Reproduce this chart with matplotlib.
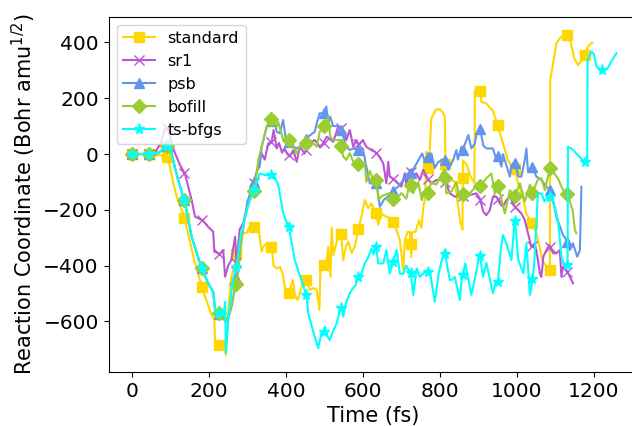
import numpy as np
import matplotlib
matplotlib.use("Agg")
import matplotlib.pyplot as plt

# ---------------- data (time in fs, reaction coordinate in Bohr amu^1/2) ----------------
std_t = [0, 20, 40, 60, 80, 90, 98, 108, 120, 133, 145, 160, 172, 183, 195, 205, 214, 216, 225, 235,
         240, 244, 250, 258, 268, 278, 290, 298, 306, 311, 320, 328, 332, 337, 342, 350, 358, 363, 368,
         376, 385, 392, 397, 406, 410, 418, 423, 431, 440, 444, 454, 462, 472, 480, 487, 490, 497, 506,
         510, 516, 519, 523, 532, 542, 549, 556, 562, 571, 579, 588, 596, 605, 614, 622, 634, 640, 648,
         661, 672, 681, 688, 696, 705, 709, 716, 722, 726, 728, 737, 746, 752, 758, 762, 765, 767, 772,
         778, 790, 800, 807, 813, 815, 830, 840, 845, 853, 859, 860, 870, 880, 890, 891, 904, 908, 920,
         938, 949, 964, 977, 990, 999, 1000, 1015, 1025, 1040, 1050, 1068, 1086, 1087, 1095, 1103, 1115,
         1131, 1140, 1150, 1159, 1168, 1175, 1185, 1196]
std_v = [0, 0, 0, -3, -5, -10, -40, -110, -170, -213, -280, -370, -430, -485, -530, -570, -595, -677, -685, -690,
         -685, -720, -560, -440, -392, -300, -284, -283, -260, -272, -255, -248, -300, -350, -330, -320, -330, -332, -400,
         -410, -405, -430, -476, -505, -487, -452, -505, -523, -480, -452, -452, -487, -480, -487, -559, -392, -398, -380,
         -332, -440, -265, -362, -314, -270, -380, -330, -314, -354, -332, -270, -225, -165, -195, -177, -212, -254, -213,
         -225, -230, -246, -275, -308, -416, -308, -280, -278, -370, -280, -278, -237, -265, -183, -159, 8, -69, -30,
         128, 160, 160, 150, 134, -93, -93, -100, -165, -240, -272, -22, -39, -81, -105, 229, 239, 187, 182,
         155, 110, 38, -22, -51, -57, -90, -150, -215, -246, -280, -386, -416, 265, 330, 397, 420,
         427, 400, 340, 319, 335, 351, 385, 399]

sr1_t = [0, 20, 45, 60, 75, 85, 90, 98, 105, 112, 125, 138, 155, 164, 183, 198, 211, 214, 228, 237,
         242, 250, 258, 268, 272, 280, 289, 298, 306, 315, 325, 337, 345, 354, 363, 368, 376, 382, 390, 396,
         404, 410, 419, 428, 436, 449, 458, 475, 488, 497, 506, 523, 536, 545, 557, 566, 575, 583, 590, 600,
         609, 622, 631, 640, 653, 661, 666, 670, 683, 700, 709, 713, 722, 731, 739, 748, 757, 770, 778, 791,
         800, 813, 826, 839, 856, 869, 878, 895, 904, 913, 921, 930, 938, 947, 956, 964, 973, 982, 995, 1012,
         1021, 1029, 1038, 1047, 1055, 1060, 1064, 1069, 1073, 1084, 1095, 1103, 1112, 1116, 1120, 1129, 1138, 1146]
sr1_v = [0, 0, 0, 5, 40, 90, 95, 70, 30, 2, -40, -72, -165, -225, -237, -261, -278, -350, -358, -344,
         -440, -400, -380, -296, -404, -270, -248, -200, -153, -111, -60, 2, -20, 38, 44, 86, 20, 40, 5, 20,
         0, -9, 14, -28, 26, 2, 38, 50, 26, 38, 62, 44, 98, 92, 50, 86, 26, 50, 32, 50,
         26, 14, 8, -4, -33, -105, -28, -81, -93, -117, -69, -117, -57, -87, -69, -93, -57, -93, -105, -93,
         -93, -93, -141, -153, -147, -153, -147, -141, -159, -207, -219, -201, -153, -153, -177, -189, -165, -153, -189, -213,
         -237, -284, -332, -320, -380, -428, -440, -368, -356, -326, -356, -356, -344, -440, -404, -416, -440, -463]

psb_t = [0, 20, 45, 70, 90, 100, 110, 120, 138, 155, 181, 198, 211, 216, 228, 238, 250, 260, 272, 285,
         300, 315, 325, 332, 337, 350, 357, 363, 369, 376, 384, 393, 400, 410, 419, 428, 436, 449, 458, 475, 480, 488,
         497, 505, 510, 515, 523, 536, 545, 557, 566, 575, 588, 600, 609, 618, 627, 636, 644, 654, 667, 680,
         692, 705, 717, 725, 737, 754, 762, 770, 778, 787, 795, 813, 822, 835, 843, 847, 856, 859, 869, 874,
         882, 891, 895, 904, 913, 921, 938, 947, 951, 960, 964, 973, 982, 986, 995, 1004, 1012, 1021, 1025, 1029,
         1041, 1051, 1064, 1077, 1086, 1095, 1103, 1112, 1120, 1129, 1138, 1146, 1157, 1164, 1168]
psb_v = [0, 0, 0, 5, 30, 20, -40, -93, -177, -296, -410, -463, -494, -559, -575, -590, -590, -540, -440, -300,
         -170, -110, -60, -45, 26, 98, 110, 120, 134, 80, 74, 122, 50, 38, 26, 20, 26, 50, 62, 80, 110, 146,
         146, 170, 110, 134, 100, 100, 80, 26, 14, 20, 14, 20, -45, -105, -105, -105, -189, -165, -150, -129,
         -117, -93, -69, -69, -40, 2, -30, -9, 2, -50, -30, -15, -57, -20, 14, -20, 26, 12, 50, 68,
         20, 38, 68, 98, 30, 20, 20, -20, -4, -45, 0, -40, -81, -40, -28, -81, -81, -20, 20, -60,
         -48, -81, -93, -117, -129, -170, -225, -260, -290, -308, -344, -320, -368, -344, -117]

bof_t = [0, 20, 45, 70, 90, 100, 110, 120, 138, 155, 181, 198, 211, 216, 228, 235, 245, 255, 265, 272,
         276, 290, 300, 310, 319, 328, 337, 350, 363, 376, 380, 393, 402, 408, 419, 428, 436, 452, 462, 480,
         488, 497, 505, 510, 515, 523, 540, 549, 557, 566, 575, 588, 596, 605, 609, 618, 627, 636, 640, 650,
         670, 683, 700, 713, 722, 731, 744, 753, 762, 770, 778, 791, 805, 813, 817, 830, 843, 852, 865, 878,
         891, 904, 921, 934, 943, 951, 969, 982, 995, 1008, 1021, 1034, 1041, 1055, 1064, 1073, 1086, 1095, 1108, 1116,
         1125, 1131, 1145, 1151, 1155]
bof_v = [0, 0, 0, 5, 30, 20, -40, -93, -177, -296, -410, -463, -494, -559, -571, -590, -600, -560, -500, -463,
         -420, -250, -190, -150, -129, -22, 26, 98, 128, 98, 115, 50, 62, 50, 26, 2, 26, 38, 50, 26,
         80, 98, 110, 134, 62, 50, 50, -9, -21, 3, -27, -36, -45, -30, -100, -60, -93, -93, -165, -150,
         -140, -170, -140, -160, -105, -140, -100, -165, -130, -140, -100, -110, -70, -55, -141, -135, -100, -165, -130, -141,
         -120, -117, -87, -70, -141, -110, -213, -130, -153, -105, -170, -110, -141, -90, -87, -130, -51, -65, -90, -117,
         -141, -141, -200, -272, -284]

ts_t = [0, 20, 45, 70, 90, 100, 110, 120, 138, 155, 181, 198, 211, 216, 228, 238, 242, 244, 250, 262,
        272, 281, 290, 305, 317, 332, 345, 363, 372, 380, 393, 408, 423, 440, 454, 458, 470, 484, 493, 497,
        502, 507, 514, 524, 532, 540, 545, 549, 557, 566, 575, 581, 588, 596, 605, 614, 622, 628, 634, 640,
        653, 661, 670, 680, 688, 696, 705, 712, 725, 731, 740, 748, 757, 765, 775, 787, 797, 805, 813, 818,
        826, 832, 839, 852, 856, 866, 882, 895, 904, 912, 921, 938, 945, 951, 958, 964, 973, 986, 995, 1004,
        1017, 1025, 1034, 1038, 1045, 1055, 1064, 1072, 1084, 1090, 1099, 1108, 1116, 1125, 1132, 1133, 1142, 1159, 1170, 1177,
        1183, 1184, 1194, 1200, 1207, 1220, 1235, 1245, 1259]
ts_v = [0, 0, 0, 5, 30, 20, -40, -93, -177, -296, -410, -463, -494, -559, -571, -575, -530, -713, -600, -450,
        -404, -300, -250, -170, -129, -70, -75, -75, -85, -110, -213, -264, -380, -450, -511, -571, -630, -696, -637, -640,
        -620, -650, -667, -630, -607, -560, -547, -583, -530, -499, -480, -470, -440, -430, -392, -370, -340, -360, -329, -392,
        -392, -344, -428, -380, -344, -428, -430, -400, -428, -505, -410, -440, -428, -420, -430, -529, -428, -380, -344, -392,
        -452, -450, -440, -523, -458, -392, -505, -420, -356, -440, -390, -499, -458, -458, -350, -290, -320, -380, -230, -380,
        -428, -320, -505, -480, -400, -141, -141, -170, -150, -160, -189, -248, -368, -404, -398, 26, 20, -4, -20, -28,
        -28, 337, 367, 360, 313, 301, 305, 330, 361]

labels = ["standard", "sr1", "psb", "bofill", "ts-bfgs"]
colors = ["#FFD700", "#BA55D3", "#6495ED", "#9ACD32", "#00FFFF"]
markers = ["s", "x", "^", "D", "*"]
msizes = [7, 7, 7, 7, 8]
series = [(std_t, std_v), (sr1_t, sr1_v), (psb_t, psb_v), (bof_t, bof_v), (ts_t, ts_v)]
mark_step = 45.25


def with_marks(t, v, step):
    t = np.asarray(t, float)
    v = np.asarray(v, float)
    mt = np.arange(0, t[-1] + 1e-9, step)
    mv = np.interp(mt, t, v)
    T = np.concatenate([t, mt])
    V = np.concatenate([v, mv])
    flag = np.concatenate([np.zeros(len(t), bool), np.ones(len(mt), bool)])
    order = np.argsort(T, kind="stable")
    T, V, flag = T[order], V[order], flag[order]
    return T, V, list(np.nonzero(flag)[0])


fig = plt.figure(figsize=(6.32, 4.26), dpi=100)
ax = fig.add_axes([0.1717, 0.1268, 0.839, 0.834])

for (t, v), lab, c, m, ms in zip(series, labels, colors, markers, msizes):
    T, V, idx = with_marks(t, v, mark_step)
    ax.plot(T, V, color=c, lw=1.5, marker=m, markersize=ms, markevery=idx, label=lab)

ax.set_xlim(-61, 1317)
ax.set_ylim(-781, 492)
ax.set_xticks([0, 200, 400, 600, 800, 1000, 1200])
ax.set_yticks([-600, -400, -200, 0, 200, 400])
ax.tick_params(labelsize=14.5)
ax.set_xlabel("Time (fs)", fontsize=15)
ax.set_ylabel(r"Reaction Coordinate (Bohr amu$^{1/2}$)", fontsize=15)
ax.legend(loc="upper left", fontsize=11.5)

fig.savefig("out.png", dpi=100)
